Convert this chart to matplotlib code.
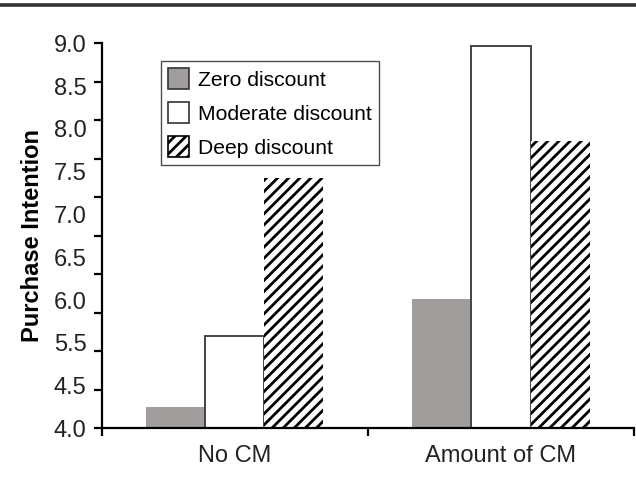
import matplotlib
matplotlib.use("Agg")
import matplotlib.pyplot as plt
import numpy as np
from matplotlib.lines import Line2D
from matplotlib.patches import Patch

# data
groups = ["No CM", "Amount of CM"]
zero_discount = [4.28, 5.68]
moderate_discount = [5.20, 8.96]
deep_discount = [7.25, 7.73]
series_names = ["Zero discount", "Moderate discount", "Deep discount"]
# the y labels in the original are spread evenly (5.0 is missing)
ytick_labels = ["4.0", "4.5", "5.5", "6.0", "6.5", "7.0", "7.5", "8.0", "8.5", "9.0"]

plt.rcParams['font.family'] = ['Liberation Sans', 'DejaVu Sans']
plt.rcParams['hatch.linewidth'] = 2.0

fig = plt.figure(figsize=(6.36, 4.84), dpi=100)
ax = fig.add_axes([0.160, 0.1147, 0.837, 0.7958])

x = np.arange(len(groups))
w = 0.222
ax.bar(x - w, zero_discount, w, color="#a19d9d", edgecolor="none")
ax.bar(x, moderate_discount, w, color="white", edgecolor="#444444", linewidth=1.4)
ax.bar(x + w, deep_discount, w, color="white", edgecolor="black", hatch="///", linewidth=0)

ax.set_xlim(-0.5, 1.5)
ax.set_ylim(4.0, 9.0)

for s in ["top", "right"]:
    ax.spines[s].set_visible(False)
for s in ["left", "bottom"]:
    ax.spines[s].set_linewidth(1.6)

# labels on major ticks, marks on minor ticks
ax.yaxis.remove_overlapping_locs = False
ax.xaxis.remove_overlapping_locs = False
ax.set_yticks(np.linspace(4.0, 9.0, len(ytick_labels)), ytick_labels)
ax.set_yticks(np.arange(4.0, 9.01, 0.5), minor=True)
ax.set_xticks(x, groups)
ax.set_xticks([-0.5, 0.5, 1.5], minor=True)
ax.tick_params(which="major", length=0, labelsize=17, colors="#222222")
ax.tick_params(axis="y", which="major", pad=11)
ax.tick_params(axis="x", which="major", pad=12)
ax.tick_params(which="minor", length=5.5, width=1.6, direction="out")

ax.set_ylabel("Purchase Intention", fontsize=17, fontweight="bold", labelpad=7)

handles = [Patch(facecolor="#a19d9d", edgecolor="#333333", linewidth=1.2),
           Patch(facecolor="white", edgecolor="#333333", linewidth=1.2),
           Patch(facecolor="white", edgecolor="black", hatch="///", linewidth=1.2)]
leg = ax.legend(handles, series_names, loc="upper left", bbox_to_anchor=(0.111, 0.954),
                borderaxespad=0, fontsize=15.2, frameon=True, fancybox=False,
                handlelength=1.0, handleheight=1.1, handletextpad=0.4,
                labelspacing=0.6, borderpad=0.35)
leg.get_frame().set_edgecolor("#222222")
leg.get_frame().set_linewidth(1.0)

# thick rule across the top of the figure
fig.add_artist(Line2D([0, 1], [0.990, 0.990], color="#333333", linewidth=2.6,
                      transform=fig.transFigure))

plt.savefig("out.png", dpi=100)
